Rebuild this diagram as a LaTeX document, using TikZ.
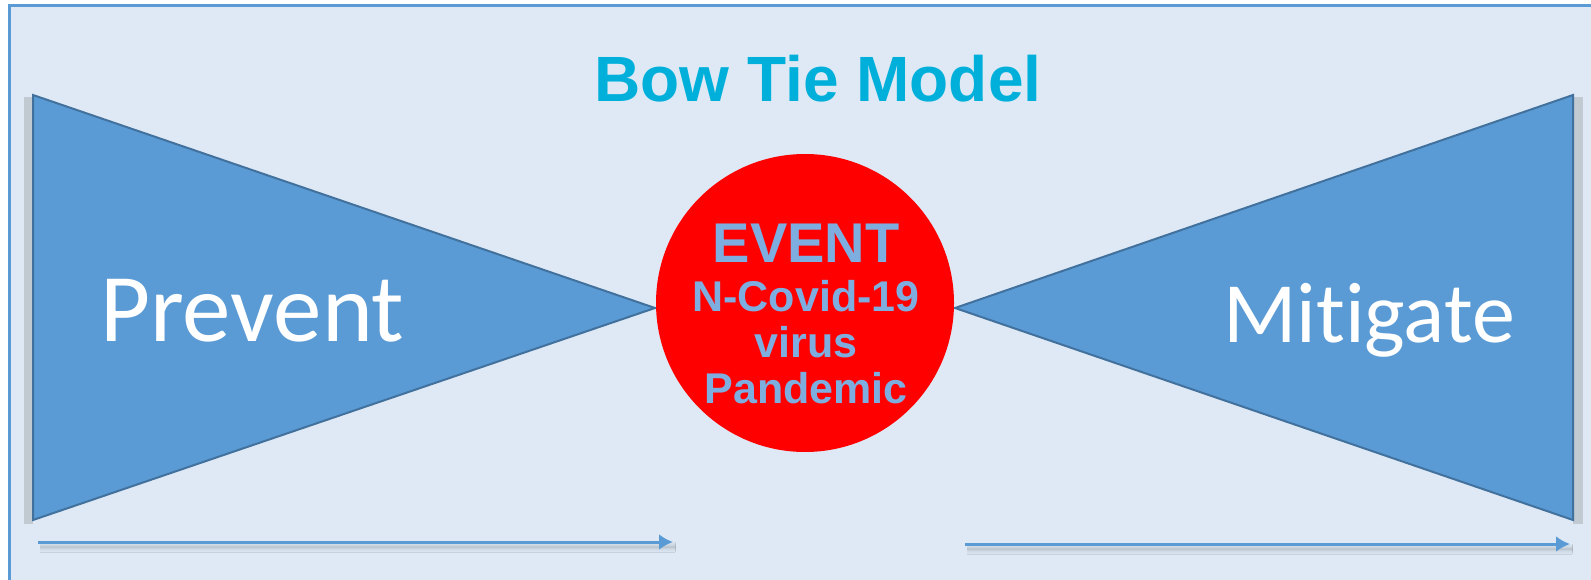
\documentclass[tikz,border=0pt]{standalone}
\usepackage{fontspec}
\setmainfont{Liberation Sans}
\newfontfamily\calfont[Ligatures={NoCommon,NoRequired,NoContextual}]{Carlito}
\usetikzlibrary{arrows.meta,shadows.blur}
\definecolor{bgblue}{HTML}{DEE9F5}
\definecolor{frameblue}{HTML}{5B9BD5}
\definecolor{tiefill}{HTML}{5B9BD5}
\definecolor{tieedge}{HTML}{41719C}
\definecolor{titlecyan}{HTML}{00B0DA}
\definecolor{eventtext}{HTML}{7EAEE0}
\tikzset{
	tie/.style={fill=tiefill, draw=tieedge, line width=2pt, line join=miter},
	timeline/.style={draw=frameblue, line width=3pt, -{Latex[length=14pt,width=16pt]},
		blur shadow={shadow xshift=2pt, shadow yshift=-5pt, shadow blur radius=5pt, shadow opacity=30}},
	eventline/.style={text=eventtext, font=\bfseries\fontsize{43}{43}\selectfont, anchor=base},
}

\begin{document}
\begin{tikzpicture}[x=1pt, y=-1pt]
		%%%%% START %%%%%
		\useasboundingbox[fill=white] (0, 0) rectangle (1591, 580);
		\fill[bgblue] (9, 6) rectangle (1591, 580);
		\draw[frameblue, line width=3pt] (9, 580) -- (9, 6) -- (1591, 6);
		
		\node[text=titlecyan, font=\bfseries\fontsize{64}{64}\selectfont, anchor=base] (title) at (818, 102) {Bow Tie Model};
		
		% left and right halves of the tie
		\fill[gray, opacity=0.3] (24, 97) -- (24, 524) -- (33, 524) -- (33, 97) -- cycle;
		\fill[gray, opacity=0.3] (1573, 97) -- (1573, 524) -- (1583, 524) -- (1583, 97) -- cycle;
		\draw[tie] (33, 95) -- (33, 520) -- (655, 308) -- cycle;
		\draw[tie] (1573, 95) -- (1573, 520) -- (955, 308) -- cycle;
		
		\node[text=white, font=\calfont\fontsize{97}{97}\selectfont, anchor=base west, inner sep=0pt] (prevent) at (100, 341) {Prevent};
		\node[text=white, font=\calfont\fontsize{86}{86}\selectfont, anchor=base west, inner sep=0pt] (mitigate) at (1223, 342) {Mit\kern0pt igate};
		
		% the event
		\node[circle, fill=red, minimum size=298pt, inner sep=0pt] (event) at (805, 303) {};
		\node[eventline, font=\bfseries\fontsize{56}{56}\selectfont] (ev1) at (806, 262) {EVENT};
		\node[eventline] (ev2) at (806, 312) {N-Covid-19};
		\node[eventline] (ev3) at (806, 357) {virus};
		\node[eventline] (ev4) at (806, 403) {Pandemic};
		
		% time lines
		\coordinate (prevstart) at (38, 542);
		\coordinate (prevend) at (673, 542);
		\coordinate (mitstart) at (965, 544);
		\coordinate (mitend) at (1570, 544);
		\draw[timeline] (prevstart) -- (prevend);
		\draw[timeline] (mitstart) -- (mitend);
		%%%%% END %%%%%
	\end{tikzpicture}
\end{document}
